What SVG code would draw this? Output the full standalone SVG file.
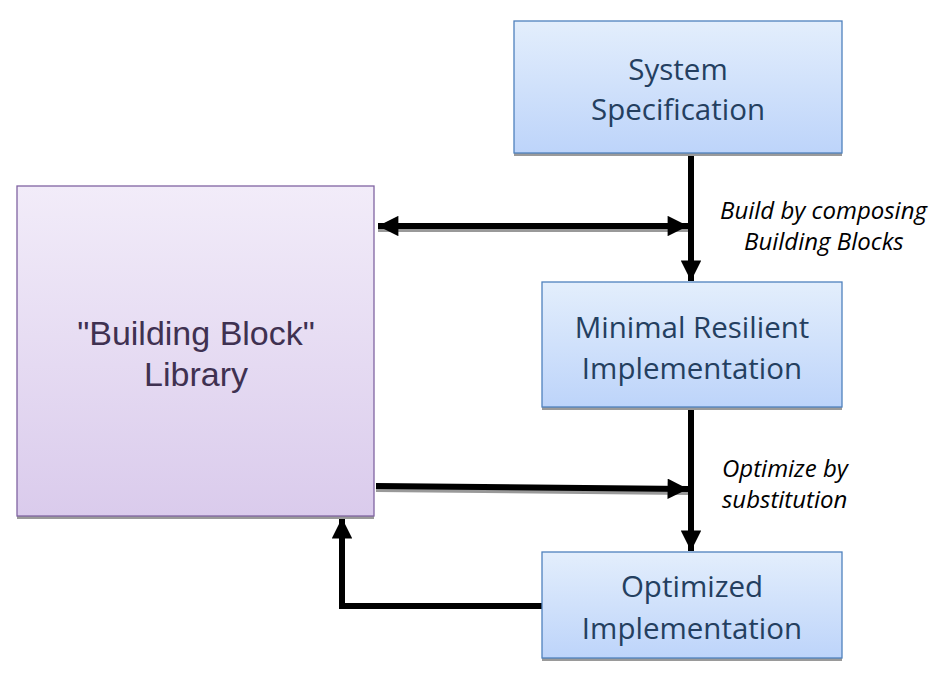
<svg xmlns="http://www.w3.org/2000/svg" width="943" height="675" viewBox="0 0 943 675">
<defs>
<linearGradient id="gBlue" x1="0" y1="0" x2="0" y2="1">
<stop offset="0" stop-color="#E3EEFC"/>
<stop offset="1" stop-color="#BDD4FA"/>
</linearGradient>
<linearGradient id="gPurple" x1="0" y1="0" x2="0" y2="1">
<stop offset="0" stop-color="#F2ECF9"/>
<stop offset="1" stop-color="#DACBEC"/>
</linearGradient>
<marker id="ah" viewBox="0 0 10 10" refX="10" refY="5" markerWidth="4.6" markerHeight="3.4" orient="auto-start-reverse" markerUnits="strokeWidth">
<path d="M0,0 L10,5 L0,10 z" fill="#000"/>
</marker>
</defs>
<style>
.bbox{fill:url(#gBlue);stroke:#4F81BD;stroke-width:1.3}
.pbox{fill:url(#gPurple);stroke:#8064A2;stroke-width:1.3}
.shadow{fill:#9a9a9a}
.bt{font-family:"Open Sans","Noto Sans",sans-serif;font-size:29.5px;fill:#243F60;text-anchor:middle}
.pt{font-family:"Liberation Sans",Arial,sans-serif;font-size:34px;fill:#3F3151;text-anchor:middle}
.lbl{font-family:"Open Sans","Noto Sans",sans-serif;font-size:24px;font-style:italic;fill:#000}
.c{fill:none;stroke:#000;stroke-width:6}
.cs{fill:none;stroke:#999;stroke-width:6}
</style>
<g id="connectors">
<path class="cs" d="M378,229 L688,229"/>
<path class="c" d="M378,226 L688,226" marker-start="url(#ah)" marker-end="url(#ah)"/>
<path class="cs" d="M376,489 L688,492"/>
<path class="c" d="M376,486 L688,489" marker-end="url(#ah)"/>
<path class="c" d="M691,154 L691,281" marker-end="url(#ah)"/>
<path class="c" d="M691,408 L691,551" marker-end="url(#ah)"/>
<path class="c" d="M542,606 L342,606 L342,518" marker-end="url(#ah)"/>
</g>
<g id="system-specification">
<rect class="shadow" x="514" y="153" width="328" height="3"/>
<rect class="bbox" x="514" y="21" width="328" height="132"/>
<text class="bt" x="678" y="80">System</text>
<text class="bt" x="678" y="120">Specification</text>
</g>
<g id="building-block-library">
<rect class="shadow" x="17" y="516" width="357" height="3"/>
<rect class="pbox" x="17" y="186" width="357" height="330"/>
<text class="pt" x="196" y="345">"Building Block"</text>
<text class="pt" x="196" y="386">Library</text>
</g>
<g id="minimal-resilient">
<rect class="shadow" x="542" y="407" width="300" height="3"/>
<rect class="bbox" x="542" y="282" width="300" height="125"/>
<text class="bt" x="692" y="338">Minimal Resilient</text>
<text class="bt" x="692" y="379">Implementation</text>
</g>
<g id="optimized-implementation">
<rect class="shadow" x="542" y="658" width="300" height="3"/>
<rect class="bbox" x="542" y="552" width="300" height="106"/>
<text class="bt" x="692" y="597">Optimized</text>
<text class="bt" x="692" y="639">Implementation</text>
</g>
<g id="labels">
<text class="lbl" x="720" y="219">Build by composing</text>
<text class="lbl" x="744" y="250">Building Blocks</text>
<text class="lbl" x="722" y="477">Optimize by</text>
<text class="lbl" x="722" y="508">substitution</text>
</g>
</svg>
